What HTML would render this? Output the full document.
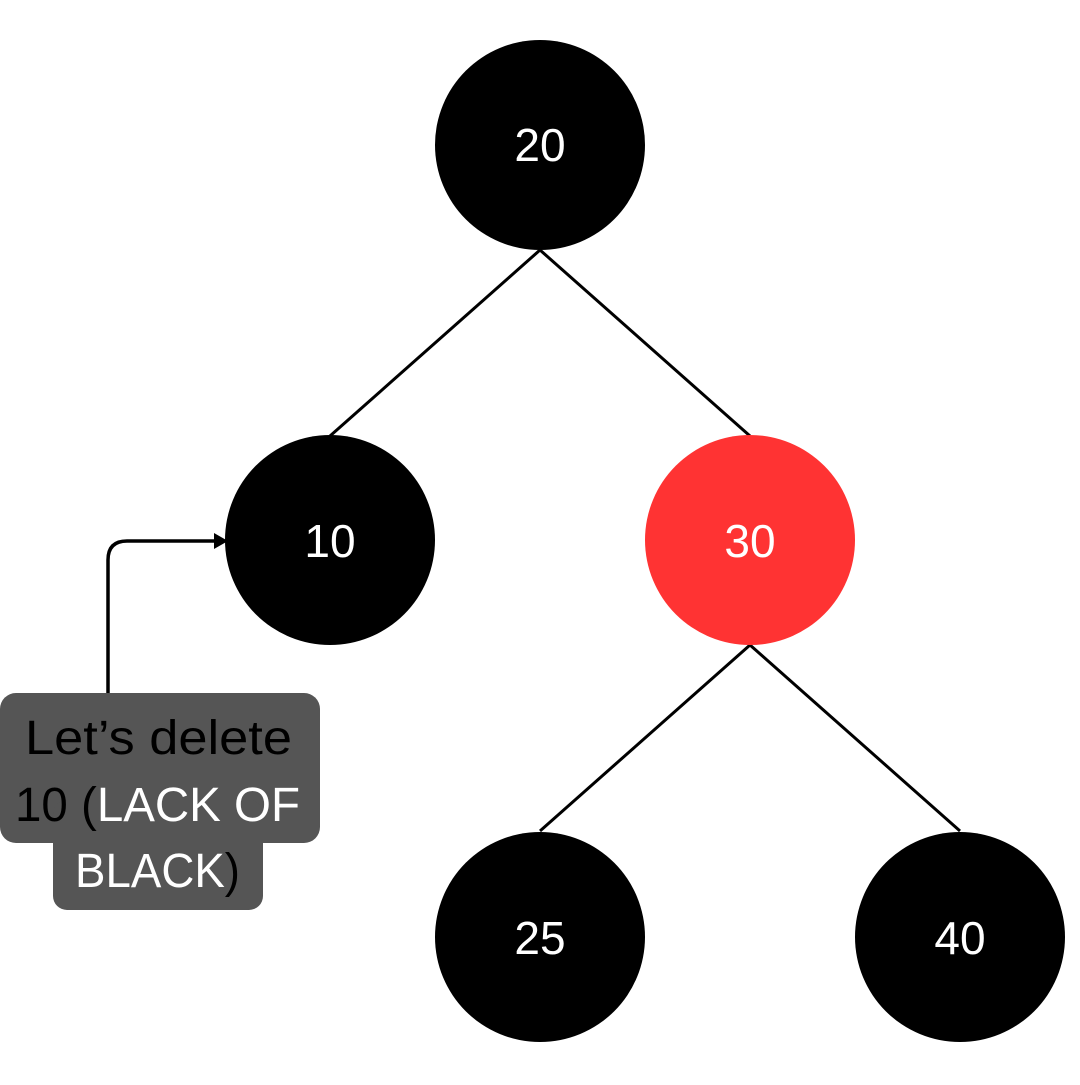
<!DOCTYPE html>
<html><head><style>
body{margin:0;width:1080px;height:1080px;background:#fff;overflow:hidden;font-family:"Liberation Sans",sans-serif}
</style></head><body>
<svg width="1080" height="1080" xmlns="http://www.w3.org/2000/svg">
<g stroke="#000" stroke-width="3">
<line x1="540" y1="250" x2="330" y2="436"/>
<line x1="540" y1="250" x2="750" y2="436"/>
<line x1="750" y1="645" x2="540" y2="831"/>
<line x1="750" y1="645" x2="960" y2="831"/>
</g>
<circle cx="540" cy="145" r="105" fill="#000"/>
<circle cx="330" cy="540" r="105" fill="#000"/>
<circle cx="750" cy="540" r="105" fill="#ff3333"/>
<circle cx="540" cy="937" r="105" fill="#000"/>
<circle cx="960" cy="937" r="105" fill="#000"/>
<g fill="#fff" font-size="46" text-anchor="middle" font-family="Liberation Sans,sans-serif">
<text x="540" y="161">20</text>
<text x="330" y="557">10</text>
<text x="750" y="557">30</text>
<text x="540" y="954">25</text>
<text x="960" y="954">40</text>
</g>
<rect x="0" y="693" width="320" height="150" rx="16" fill="#555"/>
<rect x="53" y="800" width="210" height="110" rx="14" fill="#555"/>
<path d="M108 693 V560 Q108 541 127 541 H215" fill="none" stroke="#000" stroke-width="3.5"/>
<path d="M228 541 L214 533 L214 549 Z" fill="#000"/>
<g font-size="48" font-family="Liberation Sans,sans-serif">
<text x="25" y="754" fill="#000" textLength="267" lengthAdjust="spacingAndGlyphs">Let’s delete</text>
<text x="15" y="821" textLength="285" lengthAdjust="spacingAndGlyphs"><tspan fill="#000">10 (</tspan><tspan fill="#fff">LACK OF</tspan></text>
<text x="75" y="887" textLength="165" lengthAdjust="spacingAndGlyphs"><tspan fill="#fff">BLACK</tspan><tspan fill="#000">)</tspan></text>
</g>
</svg>
</body></html>
